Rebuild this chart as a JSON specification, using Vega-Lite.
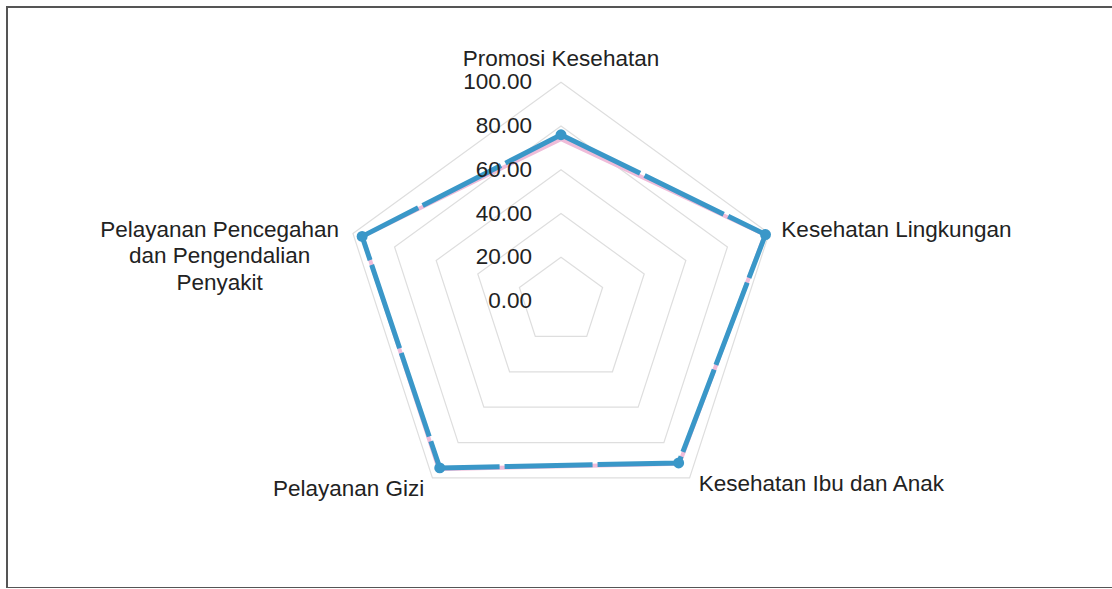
{
  "$schema": "https://vega.github.io/schema/vega-lite/v6.json",
  "width": 1107,
  "height": 581,
  "autosize": {"type": "none"},
  "padding": {"left": 7, "top": 7, "right": 0, "bottom": 0},
  "background": "white",
  "config": {
    "view": {"stroke": "#555555", "strokeWidth": 2},
    "font": "Liberation Sans",
    "axis": {"disable": true}
  },
  "datasets": {
    "scores": [
      {"category": "Promosi Kesehatan", "label": "Promosi Kesehatan", "order": 0, "value": 76, "target": 74},
      {"category": "Kesehatan Lingkungan", "label": "Kesehatan Lingkungan", "order": 1, "value": 98.3, "target": 98},
      {"category": "Kesehatan Ibu dan Anak", "label": "Kesehatan Ibu dan Anak", "order": 2, "value": 91.5, "target": 92},
      {"category": "Pelayanan Gizi", "label": "Pelayanan Gizi", "order": 3, "value": 94.3, "target": 95},
      {"category": "Pelayanan Pencegahan dan Pengendalian Penyakit", "label": "Pelayanan Pencegahan\ndan Pengendalian\nPenyakit", "order": 4, "value": 95.6, "target": 95.5}
    ],
    "grid": [
      {"level": 20, "axes": [0, 1, 2, 3, 4]},
      {"level": 40, "axes": [0, 1, 2, 3, 4]},
      {"level": 60, "axes": [0, 1, 2, 3, 4]},
      {"level": 80, "axes": [0, 1, 2, 3, 4]},
      {"level": 100, "axes": [0, 1, 2, 3, 4]}
    ],
    "ticks": [
      {"level": 0, "label": "0.00"},
      {"level": 20, "label": "20.00"},
      {"level": 40, "label": "40.00"},
      {"level": 60, "label": "60.00"},
      {"level": 80, "label": "80.00"},
      {"level": 100, "label": "100.00"}
    ]
  },
  "layer": [
    {
      "data": {"name": "grid"},
      "transform": [
        {"flatten": ["axes"], "as": ["order"]},
        {"calculate": "datum.order * 2 * PI / 5", "as": "angle"},
        {"calculate": "datum.level * sin(datum.angle)", "as": "px"},
        {"calculate": "datum.level * cos(datum.angle)", "as": "py"}
      ],
      "mark": {"type": "line", "interpolate": "linear-closed", "stroke": "#dedede", "strokeWidth": 1.2},
      "encoding": {
        "x": {"field": "px", "type": "quantitative", "scale": {"domain": [-253.26, 252.8], "nice": false, "zero": false}},
        "y": {"field": "py", "type": "quantitative", "scale": {"domain": [-131.2, 134.4], "nice": false, "zero": false}},
        "detail": {"field": "level"},
        "order": {"field": "order"}
      }
    },
    {
      "data": {"name": "scores"},
      "transform": [
        {"calculate": "datum.order * 2 * PI / 5", "as": "angle"},
        {"calculate": "datum.target * sin(datum.angle)", "as": "px"},
        {"calculate": "datum.target * cos(datum.angle)", "as": "py"}
      ],
      "mark": {"type": "line", "interpolate": "linear-closed", "stroke": "#efbcd9", "strokeWidth": 4},
      "encoding": {
        "x": {"field": "px", "type": "quantitative", "scale": {"domain": [-253.26, 252.8], "nice": false, "zero": false}},
        "y": {"field": "py", "type": "quantitative", "scale": {"domain": [-131.2, 134.4], "nice": false, "zero": false}},
        "order": {"field": "order"}
      }
    },
    {
      "data": {"name": "scores"},
      "transform": [
        {"calculate": "datum.order * 2 * PI / 5", "as": "angle"},
        {"calculate": "datum.value * sin(datum.angle)", "as": "px"},
        {"calculate": "datum.value * cos(datum.angle)", "as": "py"}
      ],
      "mark": {"type": "line", "interpolate": "linear-closed", "stroke": "#3a97c8", "strokeWidth": 5, "strokeDash": [88, 5]},
      "encoding": {
        "x": {"field": "px", "type": "quantitative", "scale": {"domain": [-253.26, 252.8], "nice": false, "zero": false}},
        "y": {"field": "py", "type": "quantitative", "scale": {"domain": [-131.2, 134.4], "nice": false, "zero": false}},
        "order": {"field": "order"}
      }
    },
    {
      "data": {"name": "scores"},
      "transform": [
        {"calculate": "datum.order * 2 * PI / 5", "as": "angle"},
        {"calculate": "datum.value * sin(datum.angle)", "as": "px"},
        {"calculate": "datum.value * cos(datum.angle)", "as": "py"}
      ],
      "mark": {"type": "point", "filled": true, "shape": "circle", "size": 120, "color": "#3a97c8", "opacity": 1},
      "encoding": {
        "x": {"field": "px", "type": "quantitative", "scale": {"domain": [-253.26, 252.8], "nice": false, "zero": false}},
        "y": {"field": "py", "type": "quantitative", "scale": {"domain": [-131.2, 134.4], "nice": false, "zero": false}}
      }
    },
    {
      "data": {"name": "ticks"},
      "mark": {"type": "text", "font": "Liberation Sans", "align": "right", "baseline": "middle", "dx": -29, "fontSize": 22.5, "color": "#222222"},
      "encoding": {
        "x": {"datum": 0, "type": "quantitative", "scale": {"domain": [-253.26, 252.8], "nice": false, "zero": false}},
        "y": {"field": "level", "type": "quantitative", "scale": {"domain": [-131.2, 134.4], "nice": false, "zero": false}},
        "text": {"field": "label"}
      }
    },
    {
      "data": {"name": "scores"},
      "transform": [
        {"filter": "datum.order == 0"},
        {"calculate": "datum.order * 2 * PI / 5", "as": "angle"},
        {"calculate": "104 * sin(datum.angle)", "as": "px"},
        {"calculate": "104 * cos(datum.angle)", "as": "py"}
      ],
      "mark": {"type": "text", "font": "Liberation Sans", "align": "center", "baseline": "middle", "dy": -15, "fontSize": 22.5, "color": "#222222"},
      "encoding": {
        "x": {"field": "px", "type": "quantitative", "scale": {"domain": [-253.26, 252.8], "nice": false, "zero": false}},
        "y": {"field": "py", "type": "quantitative", "scale": {"domain": [-131.2, 134.4], "nice": false, "zero": false}},
        "text": {"field": "label"}
      }
    },
    {
      "data": {"name": "scores"},
      "transform": [
        {"filter": "datum.order == 1 || datum.order == 2"},
        {"calculate": "datum.order * 2 * PI / 5", "as": "angle"},
        {"calculate": "104 * sin(datum.angle)", "as": "px"},
        {"calculate": "104 * cos(datum.angle)", "as": "py"}
      ],
      "mark": {"type": "text", "font": "Liberation Sans", "align": "left", "baseline": "middle", "dx": 4, "dy": -1, "fontSize": 22.5, "color": "#222222"},
      "encoding": {
        "x": {"field": "px", "type": "quantitative", "scale": {"domain": [-253.26, 252.8], "nice": false, "zero": false}},
        "y": {"field": "py", "type": "quantitative", "scale": {"domain": [-131.2, 134.4], "nice": false, "zero": false}},
        "text": {"field": "label"}
      }
    },
    {
      "data": {"name": "scores"},
      "transform": [
        {"filter": "datum.order == 3"},
        {"calculate": "datum.order * 2 * PI / 5", "as": "angle"},
        {"calculate": "104 * sin(datum.angle)", "as": "px"},
        {"calculate": "104 * cos(datum.angle)", "as": "py"}
      ],
      "mark": {"type": "text", "font": "Liberation Sans", "align": "right", "baseline": "middle", "dx": -3, "dy": 4, "fontSize": 22.5, "color": "#222222"},
      "encoding": {
        "x": {"field": "px", "type": "quantitative", "scale": {"domain": [-253.26, 252.8], "nice": false, "zero": false}},
        "y": {"field": "py", "type": "quantitative", "scale": {"domain": [-131.2, 134.4], "nice": false, "zero": false}},
        "text": {"field": "label"}
      }
    },
    {
      "data": {"name": "scores"},
      "transform": [
        {"filter": "datum.order == 4"},
        {"calculate": "datum.order * 2 * PI / 5", "as": "angle"},
        {"calculate": "104 * sin(datum.angle)", "as": "px"},
        {"calculate": "104 * cos(datum.angle)", "as": "py"}
      ],
      "mark": {"type": "text", "font": "Liberation Sans", "align": "center", "baseline": "middle", "dx": -125, "dy": -1, "lineBreak": "\n", "lineHeight": 26.5, "fontSize": 22.5, "color": "#222222"},
      "encoding": {
        "x": {"field": "px", "type": "quantitative", "scale": {"domain": [-253.26, 252.8], "nice": false, "zero": false}},
        "y": {"field": "py", "type": "quantitative", "scale": {"domain": [-131.2, 134.4], "nice": false, "zero": false}},
        "text": {"field": "label"}
      }
    }
  ]
}
